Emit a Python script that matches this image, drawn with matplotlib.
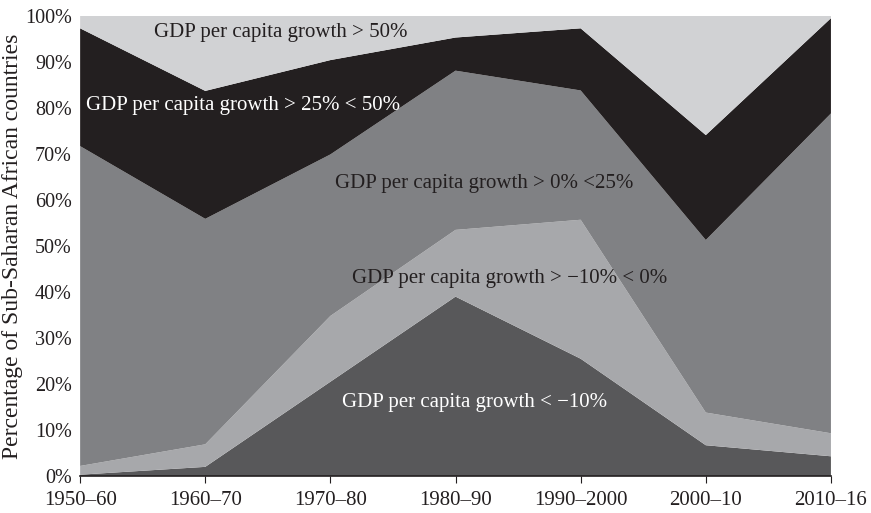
import numpy as np
import matplotlib.pyplot as plt
from matplotlib.ticker import PercentFormatter

plt.rcParams['font.family'] = ['Liberation Serif', 'DejaVu Serif']

periods = ["1950–60", "1960–70", "1970–80", "1980–90", "1990–2000", "2000–10", "2010–16"]

# share of countries in each growth band (percent), bottom band first
below_minus10 = [0.3, 2.0, 20.5, 39.0, 25.5, 6.7, 4.3]
minus10_to_0 = [1.9, 4.9, 14.3, 14.5, 30.2, 7.1, 5.0]
zero_to_25 = [69.5, 49.0, 35.1, 34.6, 28.1, 37.5, 69.5]
between_25_50 = [25.6, 27.8, 20.5, 7.2, 13.5, 22.8, 20.7]
above_50 = [2.7, 16.3, 9.6, 4.7, 2.7, 25.9, 0.5]

colors = ["#58585a", "#a7a8ab", "#808184", "#231f20", "#d1d2d4"]

x = np.arange(len(periods))

fig = plt.figure(figsize=(8.71, 5.13), dpi=100)
ax = fig.add_axes([0.092, 0.072, 0.862, 0.897])

ax.stackplot(x, below_minus10, minus10_to_0, zero_to_25, between_25_50, above_50,
             colors=colors, linewidth=0)

ax.set_xlim(0, len(periods) - 1)
ax.set_ylim(0, 100)
ax.set_xticks(x)
ax.set_xticklabels(periods, fontsize=15, color="#231f20")
ax.set_yticks(np.arange(0, 101, 10))
ax.yaxis.set_major_formatter(PercentFormatter(decimals=0))
ax.tick_params(axis="y", length=0, labelsize=14.5, pad=6, labelcolor="#231f20")
ax.tick_params(axis="x", length=5, width=0.8, color="#231f20", pad=6)
for side in ["top", "right", "left"]:
    ax.spines[side].set_visible(False)
ax.spines["bottom"].set_color("#231f20")
ax.spines["bottom"].set_linewidth(1.2)

ax.set_ylabel("Percentage of Sub-Saharan African countries", fontsize=17, color="#231f20")
ax.yaxis.set_label_coords(-0.076, 0.5)

fs = 15
ax.text(1.6, 96.5, "GDP per capita growth > 50%", fontsize=fs, color="#231f20",
        ha="center", va="center")
ax.text(0.05, 80.5, "GDP per capita growth > 25% < 50%", fontsize=fs, color="white",
        ha="left", va="center")
ax.text(3.23, 63.5, "GDP per capita growth > 0% <25%", fontsize=fs, color="#231f20",
        ha="center", va="center")
ax.text(3.43, 43.0, "GDP per capita growth > −10% < 0%", fontsize=fs, color="#231f20",
        ha="center", va="center")
ax.text(3.15, 16.0, "GDP per capita growth < −10%", fontsize=fs, color="white",
        ha="center", va="center")

fig.savefig("out.png", dpi=100)
